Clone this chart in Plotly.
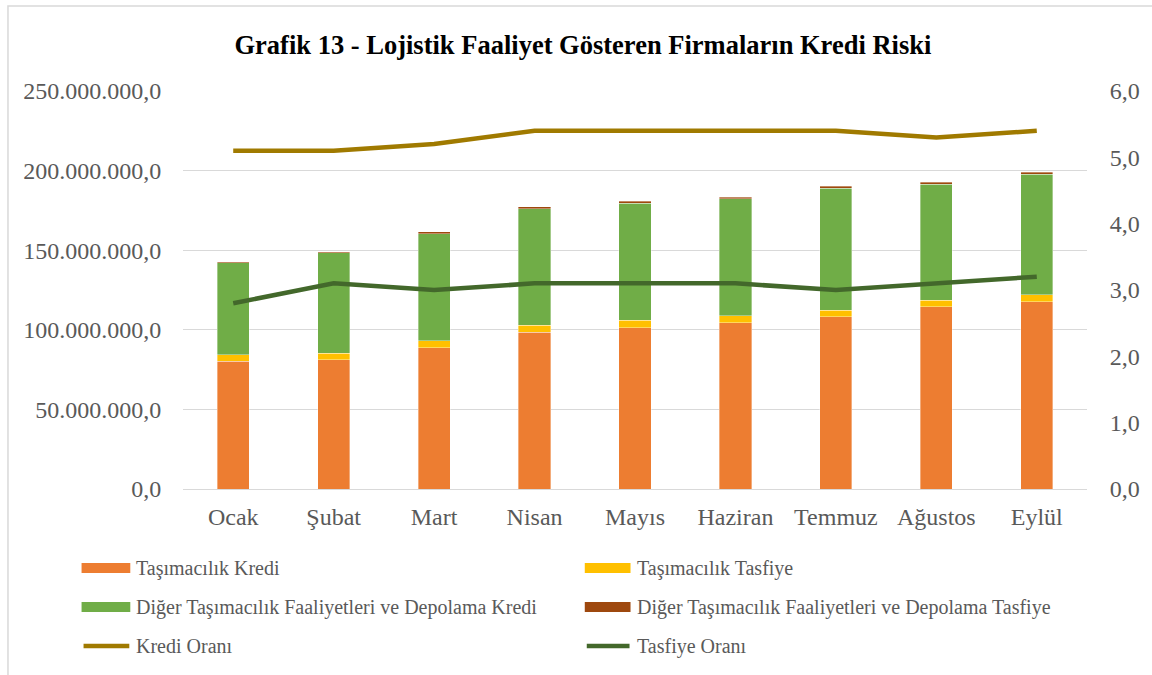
import plotly.graph_objects as go

months = ["Ocak", "Şubat", "Mart", "Nisan", "Mayıs", "Haziran", "Temmuz", "Ağustos", "Eylül"]
# values in million TL
tasima_kredi = [80.4, 81.2, 88.8, 98.4, 101.3, 104.5, 108.2, 114.5, 117.7]
tasima_tasfiye = [3.8, 4.2, 4.4, 4.4, 4.7, 4.2, 4.2, 4.2, 4.2]
diger_kredi = [57.8, 63.0, 67.2, 73.1, 73.5, 73.5, 76.5, 72.7, 75.8]
diger_tasfiye = [0.6, 0.7, 1.2, 1.4, 1.3, 1.1, 1.4, 1.4, 1.4]
kredi_orani = [5.1, 5.1, 5.2, 5.4, 5.4, 5.4, 5.4, 5.3, 5.4]
tasfiye_orani = [2.8, 3.1, 3.0, 3.1, 3.1, 3.1, 3.0, 3.1, 3.2]

names = ["Taşımacılık Kredi", "Taşımacılık Tasfiye",
         "Diğer Taşımacılık Faaliyetleri ve Depolama Kredi",
         "Diğer Taşımacılık Faaliyetleri ve Depolama Tasfiye",
         "Kredi Oranı", "Tasfiye Oranı"]
colors = ["#ED7D31", "#FFC000", "#70AD47", "#9E480E", "#A07A00", "#43682B"]

FONT = "Liberation Serif, Times New Roman, serif"
GRAY = "#595959"

W, H = 1152, 675
L, R, T, B = 183, 60, 91, 186
PW, PH = W - L - R, H - T - B


def px(x):
    return (x - L) / PW


def py(y):
    return (H - B - y) / PH


fig = go.Figure()
bar_series = [tasima_kredi, tasima_tasfiye, diger_kredi, diger_tasfiye]
for vals, c, n in zip(bar_series, colors[:4], names[:4]):
    fig.add_trace(go.Bar(
        x=months, y=[v * 1e6 for v in vals], name=n,
        marker=dict(color=c, line=dict(color="rgba(255,255,255,0.45)", width=0.8)),
        width=0.32, showlegend=False, yaxis="y"))

for vals, c, n in zip([kredi_orani, tasfiye_orani], colors[4:], names[4:]):
    fig.add_trace(go.Scatter(
        x=months, y=vals, mode="lines", name=n, line=dict(color=c, width=4.5),
        showlegend=False, yaxis="y2"))

# manual legend: three rows, two columns
shapes = [dict(type="rect", xref="paper", yref="paper",
               x0=px(7), x1=px(1170), y0=py(700), y1=py(6),
               line=dict(color="#D9D9D9", width=1.5), fillcolor="rgba(0,0,0,0)",
               layer="below")]
annotations = []
row_y = [568, 607, 646]
col_sw = [(81, 130, 134), (587, 633, 638)]
for i, (n, c) in enumerate(zip(names, colors)):
    r, col = divmod(i, 2)
    x0, x1, xt = col_sw[col]
    yc = row_y[r]
    if i < 4:
        shapes.append(dict(type="rect", xref="paper", yref="paper",
                           x0=px(x0), x1=px(x1), y0=py(yc + 5), y1=py(yc - 5),
                           line=dict(width=0), fillcolor=c))
    else:
        shapes.append(dict(type="line", xref="paper", yref="paper",
                           x0=px(x0 + 2), x1=px(x1 - 1), y0=py(yc), y1=py(yc),
                           line=dict(color=c, width=4.5)))
    annotations.append(dict(text=n, xref="paper", yref="paper", x=px(xt), y=py(yc),
                            xanchor="left", yanchor="middle", showarrow=False,
                            font=dict(family=FONT, size=20, color=GRAY)))

fig.update_layout(
    width=W, height=H,
    paper_bgcolor="white", plot_bgcolor="white",
    margin=dict(l=L, r=R, t=T, b=B),
    separators=",.",
    barmode="stack",
    showlegend=False,
    font=dict(family=FONT, color=GRAY),
    title=dict(text="<b>Grafik 13 - Lojistik Faaliyet Gösteren Firmaların Kredi Riski</b>",
               x=0.506, xanchor="center", y=1 - 45 / H, yanchor="middle",
               font=dict(family=FONT, size=26.5, color="black")),
    xaxis=dict(showgrid=False, showline=True, linecolor="#D9D9D9", linewidth=1.3,
               ticks="outside", ticklen=6, tickcolor="rgba(0,0,0,0)",
               tickfont=dict(family=FONT, size=24, color=GRAY)),
    yaxis=dict(range=[0, 250e6], dtick=50e6, tickformat=",.1f",
               showgrid=True, gridcolor="#D9D9D9", gridwidth=1.3, zeroline=False,
               ticks="outside", ticklen=16, tickcolor="rgba(0,0,0,0)",
               tickfont=dict(family=FONT, size=24, color=GRAY)),
    yaxis2=dict(range=[0, 6], dtick=1, tickformat=".1f", overlaying="y", side="right",
                showgrid=False, zeroline=False,
                ticks="outside", ticklen=17, tickcolor="rgba(0,0,0,0)",
                tickfont=dict(family=FONT, size=24, color=GRAY)),
    shapes=shapes,
    annotations=annotations,
)

fig.write_html("out.html", config={"displayModeBar": False},
               post_script="document.body.style.margin='0';")
